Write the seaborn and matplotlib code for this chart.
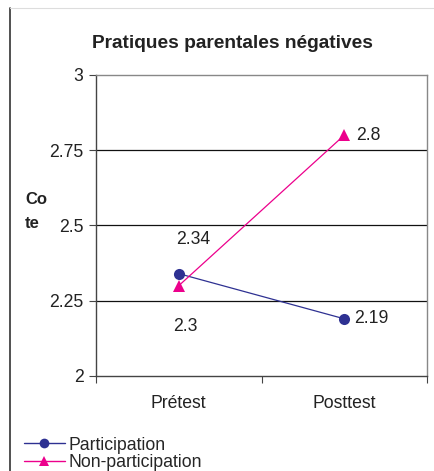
import matplotlib
matplotlib.use("Agg")
import matplotlib.pyplot as plt
import seaborn as sns
import pandas as pd
from matplotlib.lines import Line2D

categories = ["Prétest", "Posttest"]
participation = [2.34, 2.19]
non_participation = [2.3, 2.8]
series_names = ["Participation", "Non-participation"]
yticks = [2, 2.25, 2.5, 2.75, 3]
ytick_labels = ["2", "2.25", "2.5", "2.75", "3"]

sns.set_theme(style="white")
plt.rcParams['font.family'] = ['Liberation Sans', 'DejaVu Sans']

df = pd.DataFrame({
    "Test": categories * 2,
    "Cote": participation + non_participation,
    "Groupe": [series_names[0]] * 2 + [series_names[1]] * 2,
})
df["x"] = [0, 1, 0, 1]

navy = "#2E3192"
magenta = "#EC008C"
FS = 12.7

fig = plt.figure(figsize=(4.35, 4.71), dpi=100)
ax = fig.add_axes([0.2207, 0.2017, 0.9816 - 0.2207, 0.8408 - 0.2017])

sns.lineplot(data=df, x="x", y="Cote", hue="Groupe", style="Groupe",
             palette={series_names[0]: navy, series_names[1]: magenta},
             markers={series_names[0]: "o", series_names[1]: "^"},
             dashes=False, markersize=8, linewidth=0.9, markeredgewidth=0,
             legend=False, ax=ax)

ax.set_xlim(-0.5, 1.5)
ax.set_ylim(2, 3)
ax.set_yticks(yticks)
ax.set_yticklabels(ytick_labels, fontsize=FS, color="#222222")
ax.set_xticks([0, 1])
ax.set_xticklabels(categories, fontsize=FS, color="#222222")
ax.tick_params(axis="x", length=0, pad=14)
ax.tick_params(axis="y", length=5, width=0.8, color="#444444", left=True, pad=4)
ax.set_xticks([-0.5, 0.5, 1.5], minor=True)
ax.tick_params(axis="x", which="minor", length=5, width=0.8, color="#444444", bottom=True, direction="out")
for y in [2.25, 2.5, 2.75]:
    ax.axhline(y, color="#111111", linewidth=0.9, zorder=0)
ax.set_xlabel("")
ax.set_ylabel("")
for s in ax.spines.values():
    s.set_color("#888888")
    s.set_linewidth(1.0)
ax.spines["left"].set_color("#444444")
ax.spines["bottom"].set_color("#444444")

# data labels
ax.text(0.09, 2.34 + 0.113, "2.34", ha="center", va="center", fontsize=FS, color="#222222")
ax.text(0.04, 2.3 - 0.135, "2.3", ha="center", va="center", fontsize=FS, color="#222222")
ax.text(1.07, 2.8, "2.8", ha="left", va="center", fontsize=FS, color="#222222")
ax.text(1.06, 2.19, "2.19", ha="left", va="center", fontsize=FS, color="#222222")

fig.text(232 / 435, 1 - 43 / 471, "Pratiques parentales négatives", ha="center", va="center",
         fontsize=13.8, fontweight="bold", color="#222222")
fig.text(25 / 435, 1 - 212 / 471, "Co\nte", ha="left", va="center", fontsize=12,
         fontweight="bold", color="#222222", linespacing=1.75)

# frame lines
fig.add_artist(Line2D([10 / 435, 10 / 435], [0, 1 - 8 / 471], color="#333333", linewidth=1.2))
fig.add_artist(Line2D([10 / 435, 1], [1 - 8 / 471, 1 - 8 / 471], color="#DDDDDD", linewidth=0.8))

handles = [
    Line2D([], [], color=navy, marker="o", markersize=7, linewidth=1.0, markeredgewidth=0),
    Line2D([], [], color=magenta, marker="^", markersize=7, linewidth=1.0, markeredgewidth=0),
]
fig.legend(handles, series_names, loc="lower left", bbox_to_anchor=(24 / 435, 0.0),
           frameon=False, fontsize=FS, handlelength=2.3, handletextpad=0.25,
           labelspacing=0.02, borderaxespad=0, borderpad=0)

fig.savefig("out.png", dpi=100)
